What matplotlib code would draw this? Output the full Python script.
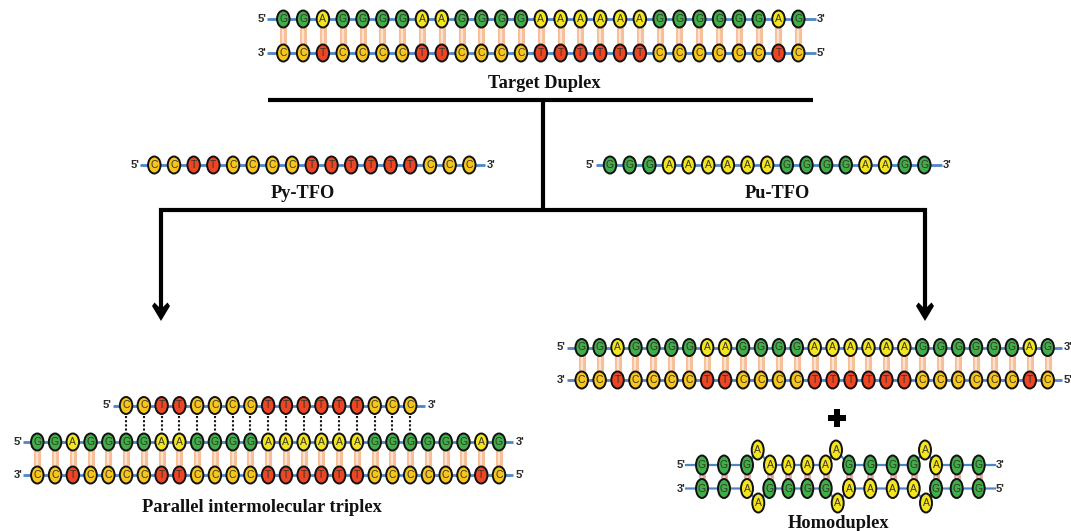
import matplotlib
matplotlib.use("Agg")
import matplotlib.pyplot as plt
from matplotlib.patches import Ellipse, Polygon

# sequences
target_top = "GGAGGGGAAGGGGAAAAAAGGGGGGAG"
target_bottom = "CCTCCCCTTCCCCTTTTTTCCCCCCTC"
py_tfo = "CCTTCCCCTTTTTTCCC"
pu_tfo = "GGGAAAAAAGGGGAAGG"
homo_top = "GGGAAAAAAGGGGAAGG"
homo_bottom = "GGAAGGGGAAAAAAGGG"
bulge_idx = [3, 8, 13]

labels = ["Target Duplex", "Py-TFO", "Pu-TFO", "Parallel intermolecular triplex", "Homoduplex"]

base_colors = {"G": "#3fae4a", "A": "#f3e61f", "C": "#f7c61d", "T": "#ee4524"}
BLUE = "#4d86c8"

fig = plt.figure(figsize=(10.71, 5.31), dpi=100)
ax = fig.add_axes([0, 0, 1, 1])
ax.set_xlim(0, 1071)
ax.set_ylim(531, 0)
ax.axis("off")


def end_label(x, y, s):
    ax.text(x, y, s, ha="center", va="center", fontsize=8, fontweight="bold",
            family="Liberation Sans", color="#2a2a2a", zorder=6)


def base(x, y, letter, w=12.5, h=17):
    ax.add_patch(Ellipse((x, y), w, h, facecolor=base_colors[letter], edgecolor="#111111", lw=1.4, zorder=4))
    ax.text(x, y, letter, ha="center", va="center", fontsize=7.5, color="#3a3626",
            family="Liberation Sans", zorder=5)


def strand(seq, x0, x1, y, line_x0, line_x1):
    step = (x1 - x0) / (len(seq) - 1)
    ax.plot([line_x0, line_x1], [y, y], color=BLUE, lw=2, zorder=1, solid_capstyle="butt")
    xs = [x0 + i * step for i in range(len(seq))]
    for x, c in zip(xs, seq):
        base(x, y, c)
    return xs


def rungs(xs, y0, y1, light="#fde2d0", dark="#f7bf98", w=3.2):
    for x in xs:
        ax.plot([x, x], [y0, y1], color=dark, lw=w * 1.6, zorder=2, solid_capstyle="butt")
        ax.plot([x, x], [y0, y1], color=light, lw=w * 0.5, zorder=2.5, solid_capstyle="butt")


def duplex(x0, x1, y0, y1, line_x0, line_x1):
    xs = strand(target_top, x0, x1, y0, line_x0, line_x1)
    strand(target_bottom, x0, x1, y1, line_x0, line_x1)
    rungs(xs, y0, y1)
    return xs


def title(x, y, s):
    ax.text(x, y, s, ha="center", va="center", fontsize=13.2, fontweight="bold",
            family="Liberation Serif", color="#111111", zorder=6)


# target duplex
duplex(283.3, 798.3, 19, 53, 267, 816)
end_label(262, 19, "5'")
end_label(262, 53, "3'")
end_label(821.5, 19, "3'")
end_label(821.5, 53, "5'")
title(544, 83, labels[0])

# tree of black lines
ax.plot([268, 813], [100, 100], color="black", lw=3, zorder=1, solid_capstyle="butt")
ax.plot([543, 543], [100, 210], color="black", lw=3, zorder=1, solid_capstyle="butt")
ax.plot([161, 161, 925, 925], [312, 210, 210, 312], color="black", lw=3, zorder=1,
        solid_capstyle="butt", solid_joinstyle="miter")
for x in (161, 925):
    ax.add_patch(Polygon([(x - 9, 306), (x - 6.5, 302.5), (x, 309), (x + 6.5, 302.5), (x + 9, 306), (x, 321)],
                         closed=True, facecolor="black", edgecolor="none", zorder=1))

# TFOs
strand(py_tfo, 154.3, 469.3, 165, 140, 485)
end_label(135, 165, "5'")
end_label(491.5, 165, "3'")
title(303, 194, labels[1])
strand(pu_tfo, 610, 924.3, 165, 596, 942)
end_label(590, 165, "5'")
end_label(947, 165, "3'")
title(777, 194, labels[2])

# triplex, TFO sits over positions 5..21 of the duplex
xs = duplex(37.3, 499, 442, 475, 23, 513)
tfo_xs = strand(py_tfo, xs[5], xs[21], 405.5, 113, 425)
for x in tfo_xs:
    ax.plot([x, x], [416, 432], color="#111111", lw=1.5, ls=(0, (1, 1)), zorder=2)
end_label(107, 405.5, "5'")
end_label(432, 405.5, "3'")
end_label(18, 442, "5'")
end_label(18, 475, "3'")
end_label(520.5, 442, "3'")
end_label(520.5, 475, "5'")
title(262, 508, labels[3])

# right duplex
duplex(581.7, 1047.7, 347.5, 380, 567, 1062)
end_label(561, 347.5, "5'")
end_label(561, 380, "3'")
end_label(1068.5, 347.5, "3'")
end_label(1068.5, 380, "5'")

# plus sign
ax.plot([836.7], [418], marker="P", ms=13, color="black", mew=0, zorder=3)

# homoduplex
top_y = 465
bot_y = 488.5
top_xs = [702, 724, 747, 757.7, 770, 788.3, 807.3, 825.7, 836, 849, 870.3, 892.7, 913.7, 925, 936, 956.7, 978.7]
bot_xs = [702, 724, 747, 758.3, 769.3, 788.3, 807.3, 825.7, 837.7, 849, 870.3, 892.7, 913.7, 926, 936, 956.7, 978.7]
top_ys = [450 if i in bulge_idx else top_y for i in range(len(top_xs))]
bot_ys = [503 if i in bulge_idx else bot_y for i in range(len(bot_xs))]
ax.plot([686] + top_xs + [995], [top_y] + top_ys + [top_y], color=BLUE, lw=1.6, zorder=1)
ax.plot([686] + bot_xs + [995], [bot_y] + bot_ys + [bot_y], color=BLUE, lw=1.6, zorder=1)
for x, y, c in zip(top_xs, top_ys, homo_top):
    base(x, y, c, 12, 19)
for x, y, c in zip(bot_xs, bot_ys, homo_bottom):
    base(x, y, c, 12, 19)
pair_xs = [x for i, x in enumerate(top_xs) if i not in bulge_idx]
rungs(pair_xs, top_y, bot_y, light="#fbc7bb", dark="#d9a79c", w=3)
end_label(681, 465, "5'")
end_label(681, 488.5, "3'")
end_label(1000, 465, "3'")
end_label(1000, 488.5, "5'")
title(838, 523, labels[4])

fig.savefig("out.png", dpi=100, facecolor="white")
